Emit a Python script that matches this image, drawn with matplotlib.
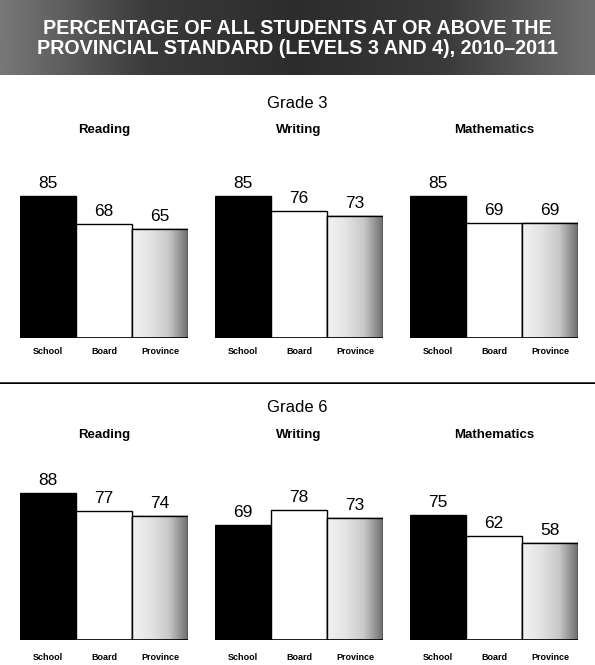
import numpy as np
import matplotlib
matplotlib.use("Agg")
import matplotlib.pyplot as plt
from matplotlib.colors import LinearSegmentedColormap

plt.rcParams['font.family'] = ['Liberation Sans', 'DejaVu Sans']

# data
groups = ["School", "Board", "Province"]
subjects = ["Reading", "Writing", "Mathematics"]
grade3 = [[85, 68, 65], [85, 76, 73], [85, 69, 69]]
grade6 = [[88, 77, 74], [69, 78, 73], [75, 62, 58]]
title_lines = ["PERCENTAGE OF ALL STUDENTS AT OR ABOVE THE",
               "PROVINCIAL STANDARD (LEVELS 3 AND 4), 2010\u20132011"]

W, H = 595, 665
fig = plt.figure(figsize=(W / 100, H / 100), dpi=100)

def fx(px):
    return px / W

def fy(py):
    return 1 - py / H

# dark banner at the top
ban = fig.add_axes([0, fy(75), 1, 75 / H])
ban.axis("off")
grad = np.linspace(0, 1, 200).reshape(1, -1)
bcmap = LinearSegmentedColormap.from_list("ban", ["#777777", "#3a3a3a", "#2c2c2c", "#3a3a3a", "#6f6f6f"])
ban.imshow(grad, aspect="auto", cmap=bcmap, extent=[0, 1, 0, 1])
ban.set_xlim(0, 1)
ban.set_ylim(0, 1)
fig.text(0.5, fy(28), title_lines[0], ha="center", va="center", color="white",
         fontsize=14.2, fontweight="bold")
fig.text(0.5, fy(49), title_lines[1], ha="center", va="center", color="white",
         fontsize=14.2, fontweight="bold")

prov_cmap = LinearSegmentedColormap.from_list("prov", ["#f2f2f2", "#e4e4e4", "#c8c8c8", "#707070"])

lefts = [20, 215, 410]
width = 168

def draw_row(values, base_y, grade_y, subj_y, lab_y, grade_name):
    fig.text(0.5, fy(grade_y), grade_name, ha="center", va="center", fontsize=12)
    for k, (subj, vals) in enumerate(zip(subjects, values)):
        x0 = lefts[k]
        fig.text(fx(x0 + width / 2), fy(subj_y), subj, ha="center", va="center",
                 fontsize=9.5, fontweight="bold")
        h = 167
        ax = fig.add_axes([fx(x0), fy(base_y), fx(width), h / H])
        ax.set_xlim(-0.5, 2.5)
        ax.set_ylim(0, 100)
        for s in ax.spines.values():
            s.set_visible(False)
        ax.set_yticks([])
        ax.set_xticks([])
        x = np.arange(3)
        bars = ax.bar(x, vals, width=1.0, color=["black", "white", "#e6e6e6"],
                      edgecolor="black", linewidth=1.0)
        # gradient fill for province bar
        pb = bars[2]
        img = ax.imshow(np.linspace(0, 1, 100).reshape(1, -1), cmap=prov_cmap,
                        aspect="auto", extent=[1.5, 2.5, 0, vals[2]], zorder=2)
        img.set_clip_path(pb)
        ax.bar([2], [vals[2]], width=1.0, color="none", edgecolor="black",
               linewidth=1.0, zorder=3)
        ax.axhline(0, color="black", linewidth=1.2, zorder=4)
        for xi, v in zip(x, vals):
            ax.text(xi, v + 3, str(v), ha="center", va="bottom", fontsize=12.5)
        ax.set_xlim(-0.5, 2.5)
        ax.set_ylim(0, 100)
        for xi, g in zip(x, groups):
            fig.text(fx(x0 + width / 6 + xi * width / 3), fy(lab_y), g, ha="center",
                     va="center", fontsize=6.5, fontweight="bold")

draw_row(grade3, 338, 103, 130, 352, "Grade 3")

# separator line
sep = fig.add_axes([0, fy(384), 1, 2 / H])
sep.axis("off")
sep.axhline(0.5, color="black", linewidth=1.8)
sep.set_xlim(0, 1)

draw_row(grade6, 640, 407, 435, 658, "Grade 6")

fig.savefig("out.png", dpi=100)
